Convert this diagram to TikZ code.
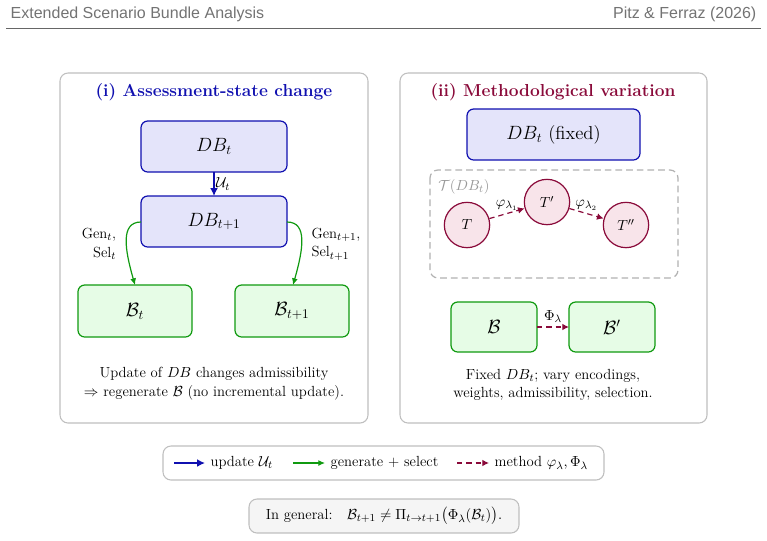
\documentclass[tikz,border=0pt]{standalone}
\usepackage{amsmath,amssymb}
\usepackage{fontspec}
\newfontfamily\hdr{Liberation Sans}
\usetikzlibrary{arrows.meta}
\definecolor{cblue}{HTML}{1010B0}
\definecolor{fblue}{HTML}{E4E4FA}
\definecolor{cgreen}{HTML}{109A10}
\definecolor{fgreen}{HTML}{E6FCE6}
\definecolor{cmar}{HTML}{8A0A3A}
\definecolor{fmar}{HTML}{F8E4EA}
\newcommand{\bodyf}{\fontsize{11}{14}\selectfont}
\newcommand{\bigf}{\fontsize{14}{16}\selectfont}
\begin{document}
\begin{tikzpicture}[x=0.75pt,y=-0.75pt,
 panel/.style={draw=black!25,fill=white,rounded corners=6pt,line width=0.8pt},
 dbbox/.style={draw=cblue,fill=fblue,rounded corners=5pt,line width=0.9pt},
 bbox/.style={draw=cgreen,fill=fgreen,rounded corners=5pt,line width=0.9pt},
 circ/.style={circle,draw=cmar,fill=fmar,line width=0.9pt,minimum size=34pt,inner sep=0pt},
 upd/.style={-{Latex[length=6pt,width=6pt]},draw=cblue,line width=1.3pt},
 gen/.style={-{Latex[length=5pt,width=4.5pt]},draw=cgreen,line width=0.9pt},
 meth/.style={-{Latex[length=5pt,width=5pt]},draw=cmar,line width=0.9pt,dash pattern=on 4pt off 3pt},
 lbl/.style={font=\bodyf,inner sep=1pt}]
\useasboundingbox (0,0) rectangle (767,540);
\node[anchor=west,text=black!55,font=\hdr\large] (h1) at (6,14) {Extended Scenario Bundle Analysis};
\node[anchor=east,text=black!55,font=\hdr\large] (h2) at (761,14) {Pitz \& Ferraz (2026)};
\draw[black!60,line width=0.6pt] (6,28) -- (761,28);
% panel i
\draw[panel] (60,73) rectangle (368,423);
\node[text=cblue,font=\fontsize{13}{15}\selectfont\bfseries] (t1) at (214,92) {(i) Assessment-state change};
\draw[dbbox] (141,121) rectangle (287,172);
\node[font=\bigf] (db1) at (214,146.5) {$DB_t$};
\draw[dbbox] (141,196) rectangle (287,247);
\node[font=\bigf] (db2) at (214,221.5) {$DB_{t+1}$};
\coordinate (a1) at (214,172); \coordinate (a2) at (214,196);
\draw[upd] (a1) -- (a2) node[midway,right,lbl] {$\mathcal{U}_t$};
\draw[bbox] (78,285) rectangle (192,337);
\node[font=\bigf] (b1) at (135,311) {$\mathcal{B}_t$};
\draw[bbox] (235,285) rectangle (349,337);
\node[font=\bigf] (b2) at (292,311) {$\mathcal{B}_{t+1}$};
\coordinate (g1) at (141,222); \coordinate (g1e) at (135,285);
\coordinate (g2) at (287,222); \coordinate (g2e) at (293,285);
\draw[gen] (g1) .. controls (120,222) and (125,250) .. (g1e);
\draw[gen] (g2) .. controls (308,222) and (303,250) .. (g2e);
\node[lbl,align=right] (l1) at (99,244) {Gen$_t$,\\Sel$_t$};
\node[lbl,align=left] (l2) at (336,244) {Gen$_{t+1}$,\\Sel$_{t+1}$};
\node[lbl,align=center] (d1) at (214,384) {Update of $DB$ changes admissibility\\$\Rightarrow$ regenerate $\mathcal{B}$ (no incremental update).};
% panel ii
\draw[panel] (400,73) rectangle (707,423);
\node[text=cmar,font=\fontsize{13}{15}\selectfont\bfseries] (t2) at (553,92) {(ii) Methodological variation};
\draw[dbbox] (467,109) rectangle (640,160);
\node[font=\bigf] (db3) at (553.5,134.5) {$DB_t$ (fixed)};
\draw[black!30,line width=0.9pt,rounded corners=6pt,dash pattern=on 5pt off 3pt] (430,170) rectangle (678,278);
\node[text=black!40,anchor=west,inner sep=0pt,font=\bodyf] (tl) at (438,187) {$\mathcal{T}(DB_t)$};
\node[circ] (T) at (467,225) {\bodyf $T$};
\node[circ] (T1) at (547,202) {\bodyf $T'$};
\node[circ] (T2) at (626,225) {\bodyf $T''$};
\draw[meth] (T) -- (T1) node[midway,above,lbl,yshift=1pt] {$\varphi_{\lambda_1}$};
\draw[meth] (T1) -- (T2) node[midway,above,lbl,yshift=1pt] {$\varphi_{\lambda_2}$};
\draw[bbox] (451,302) rectangle (537,352);
\node[font=\bigf] (b3) at (494,327) {$\mathcal{B}$};
\draw[bbox] (569,302) rectangle (655,352);
\node[font=\bigf] (b4) at (612,327) {$\mathcal{B}'$};
\coordinate (c1) at (537,327); \coordinate (c2) at (569,327);
\draw[meth] (c1) -- (c2) node[midway,above,lbl,yshift=2pt] {$\Phi_\lambda$};
\node[lbl,align=center] (d2) at (553,385) {Fixed $DB_t$; vary encodings,\\weights, admissibility, selection.};
% legend
\draw[panel] (163,446) rectangle (604,480);
\coordinate (e1) at (174,463); \coordinate (e2) at (205,463);
\draw[upd] (e1) -- (e2);
\node[lbl,anchor=west] (le1) at (209,463) {update $\mathcal{U}_t$};
\coordinate (e3) at (293,463); \coordinate (e4) at (325,463);
\draw[gen] (e3) -- (e4);
\node[lbl,anchor=west] (le2) at (329,463) {generate + select};
\coordinate (e5) at (457,463); \coordinate (e6) at (489,463);
\draw[meth] (e5) -- (e6);
\node[lbl,anchor=west] (le3) at (493,463) {method $\varphi_\lambda,\Phi_\lambda$};
% general
\draw[panel,fill=black!4] (249,499) rectangle (519,533);
\node[lbl] (gen) at (384,516) {In general:\quad $\mathcal{B}_{t+1}\neq\Pi_{t\to t+1}\bigl(\Phi_\lambda(\mathcal{B}_t)\bigr).$};
\end{tikzpicture}
\end{document}
